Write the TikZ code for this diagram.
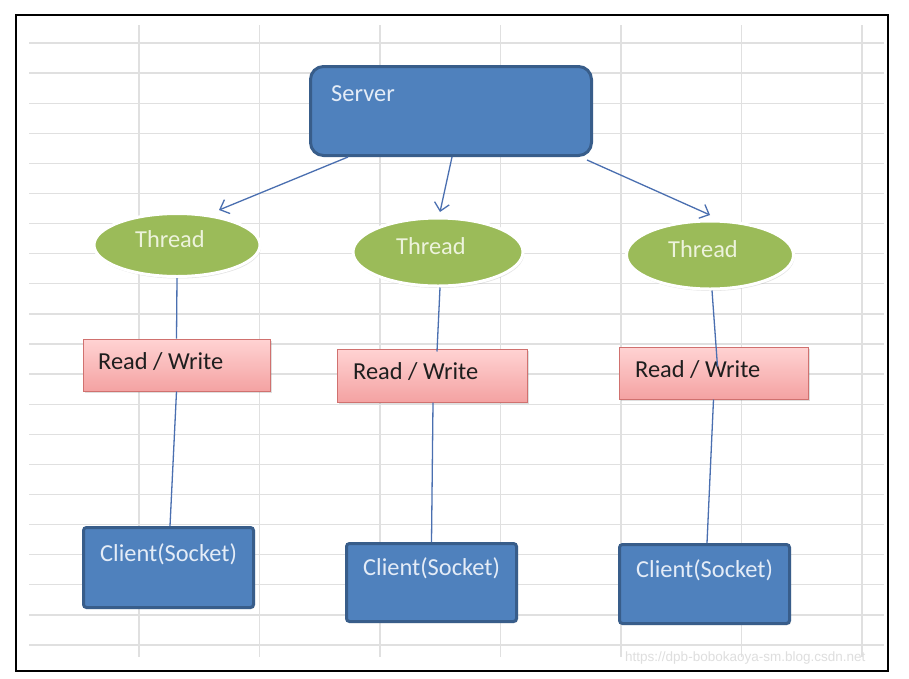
\documentclass[tikz,border=0pt]{standalone}
\usepackage{fontspec}
\setmainfont{Carlito}
\newfontfamily\wmfont{Liberation Sans}
\usetikzlibrary{arrows.meta,calc,shadows,shapes.geometric}
\definecolor{boxblue}{HTML}{4F81BD}
\definecolor{boxblueline}{HTML}{385D8A}
\definecolor{thgreen}{HTML}{9BBB59}
\definecolor{pinktop}{HTML}{FFD3D3}
\definecolor{pinkbot}{HTML}{F4A2A2}
\definecolor{pinkline}{HTML}{D0716F}
\definecolor{lighttext}{HTML}{E4ECF7}
\definecolor{greentext}{HTML}{EDF3DC}
\definecolor{darktext}{HTML}{1E1E1E}
\definecolor{connblue}{HTML}{4A6FB0}
\definecolor{gridgray}{HTML}{E0E0E0}
\definecolor{wmgray}{HTML}{DEDEDE}
\begin{document}
\begin{tikzpicture}[x=1pt,y=-1pt,
  bigfont/.style={font=\fontsize{24.4}{28}\selectfont},
  gridline/.style={draw=gridgray,line width=1.3pt},
  serverbox/.style={draw=boxblueline,fill=boxblue,line width=3pt,rounded corners=13pt,inner sep=0pt},
  clientbox/.style={draw=boxblueline,fill=boxblue,line width=3pt,rounded corners=3pt,inner sep=0pt,
     drop shadow={opacity=0.2,shadow xshift=1.5pt,shadow yshift=-1.5pt}},
  threadshape/.style={ellipse,draw=white,fill=thgreen,line width=3pt,inner sep=0pt,
     drop shadow={opacity=0.22,shadow xshift=1pt,shadow yshift=-2pt}},
  rwbox/.style={draw=pinkline,line width=1pt,top color=pinktop,bottom color=pinkbot,inner sep=0pt,
     drop shadow={opacity=0.25,shadow xshift=1.5pt,shadow yshift=-1.5pt}},
  lighttxt/.style={bigfont,text=lighttext,inner sep=0pt,anchor=base west},
  greentxt/.style={bigfont,text=greentext,inner sep=0pt,anchor=base west},
  darktxt/.style={bigfont,text=darktext,inner sep=0pt,anchor=base west},
  conn/.style={draw=connblue,line width=1.3pt},
  arrowline/.style={draw=connblue,line width=1.3pt,-{Straight Barb[length=8pt,width=15pt]}}
]
\useasboundingbox (0,0) rectangle (909,678);
\fill[white] (0,0) rectangle (909,678);
% grid
\foreach \k in {0,...,20} \draw[gridline] (29,{43+30.1*\k}) -- (884,{43+30.1*\k});
\foreach \k in {0,...,6} \draw[gridline] ({139+120.5*\k},25) -- ({139+120.5*\k},657);
% frame
\draw[line width=2pt,black] (16,15) rectangle (888,671);

% server
\node[serverbox,minimum width=281pt,minimum height=89pt] (server) at (451,111) {};
\node[lighttxt] (servertxt) at (331,101) {Server};

% threads
\node[threadshape,minimum width=166pt,minimum height=63pt] (t1) at (177,245) {};
\node[threadshape,minimum width=170pt,minimum height=68pt] (t2) at (438,252) {};
\node[threadshape,minimum width=167pt,minimum height=68pt] (t3) at (710,255) {};
\node[greentxt] (t1txt) at (135,247) {Thread};
\node[greentxt] (t2txt) at (396,254) {Thread};
\node[greentxt] (t3txt) at (668,257) {Thread};

% read / write
\node[rwbox,minimum width=187pt,minimum height=52pt] (rw1) at (176.5,365) {};
\node[rwbox,minimum width=190pt,minimum height=53pt] (rw2) at (432,375.5) {};
\node[rwbox,minimum width=189pt,minimum height=52pt] (rw3) at (713.5,373) {};
\node[darktxt] (rw1txt) at (98,369) {Read / Write};
\node[darktxt] (rw2txt) at (353,379) {Read / Write};
\node[darktxt] (rw3txt) at (635,377) {Read / Write};

% clients
\node[clientbox,minimum width=170pt,minimum height=80pt] (c1) at (168.5,567.5) {};
\node[clientbox,minimum width=170pt,minimum height=78pt] (c2) at (431.5,582.5) {};
\node[clientbox,minimum width=170pt,minimum height=79pt] (c3) at (704.5,584) {};
\node[lighttxt] (c1txt) at (100,561) {Client(Socket)};
\node[lighttxt] (c2txt) at (363,575) {Client(Socket)};
\node[lighttxt] (c3txt) at (636,577) {Client(Socket)};

% arrows from server
\draw[arrowline] ($(server.south west)+(39,0)$) -- ($(t1.center)+(42,-35)$);
\draw[arrowline] ($(server.south)+(1,0)$) -- ($(t2.center)+(2,-40)$);
\draw[arrowline] ($(server.south east)+(-6,3)$) -- ($(t3.center)+(0,-40)$);

% connectors
\draw[conn] (t1.south) -- (rw1.north);
\draw[conn] (rw1.south) -- ($(c1.north)+(1.5,0)$);
\draw[conn] ($(t2.south)+(2,0)$) -- ($(rw2.north)+(5,3)$);
\draw[conn] ($(rw2.south)+(1,0)$) -- (c2.north);
\draw[conn] ($(t3.south)+(2,0)$) -- ($(rw3.north)+(4,20)$);
\draw[conn] (rw3.south) -- ($(c3.north)+(2.5,0)$);

% watermark
\node[anchor=base west,inner sep=0pt,text=wmgray,font=\wmfont\fontsize{13.5}{16}\selectfont] (wm) at (625,661) {https://dpb-bobokaoya-sm.blog.csdn.net};
\end{tikzpicture}
\end{document}
